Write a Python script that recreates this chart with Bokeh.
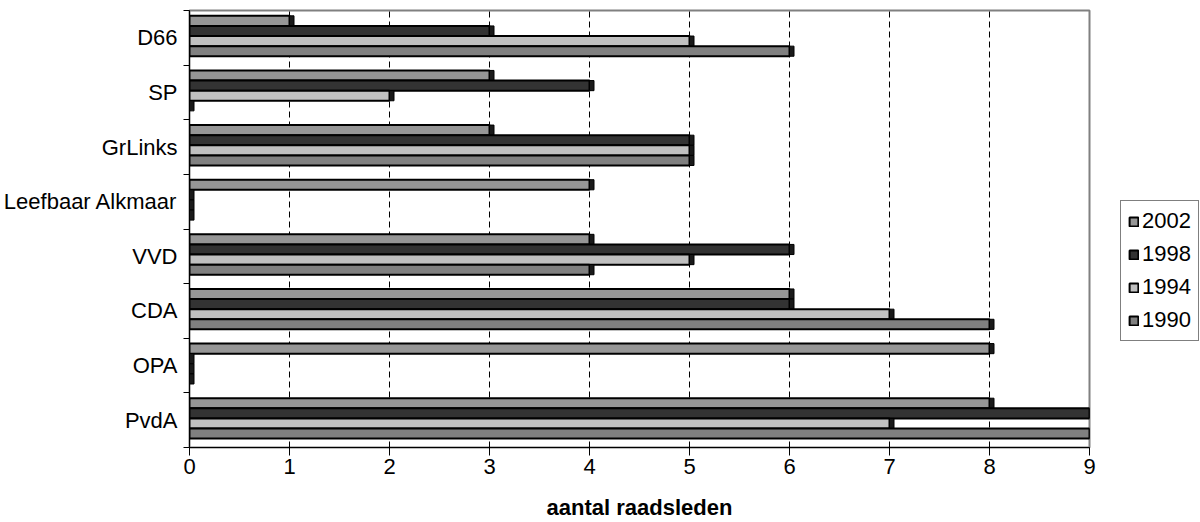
from bokeh.plotting import figure
from bokeh.models import ColumnDataSource, FixedTicker, Legend, LegendItem, Range1d
from bokeh.embed import file_html
from bokeh.resources import INLINE

parties = ["PvdA", "OPA", "CDA", "VVD", "Leefbaar Alkmaar", "GrLinks", "SP", "D66"]
years = ["2002", "1998", "1994", "1990"]
v2002 = [8, 8, 6, 4, 4, 3, 3, 1]
v1998 = [9, 0, 6, 6, 0, 5, 4, 3]
v1994 = [7, 0, 7, 5, 0, 5, 2, 5]
v1990 = [9, 0, 8, 4, 0, 5, 0, 6]
colors = ["#969696", "#333333", "#c0c0c0", "#808080"]
x_ticks = list(range(0, 10))

FONT = "Liberation Sans"

p = figure(frame_width=900, frame_height=437, output_backend="svg", toolbar_location=None,
           x_range=Range1d(0, 9), y_range=Range1d(0, len(parties)),
           min_border_left=182, min_border_right=0, min_border_top=10, min_border_bottom=0)

bar_h = 0.185
cap = 0.045
items = []
for k, (yr, vals, col) in enumerate(zip(years, [v2002, v1998, v1994, v1990], colors)):
    ys = [i + 1 - 0.19 - k * bar_h for i in range(len(parties))]
    src = ColumnDataSource(dict(y=ys, right=vals, capr=[v + cap for v in vals]))
    r = p.hbar(y="y", left=0, right="right", height=bar_h, source=src,
               fill_color=col, line_color="black", line_width=2)
    # dark end cap imitating the 3-D side face
    p.hbar(y="y", left="right", right="capr", height=bar_h, source=src,
           fill_color="#1a1a1a", line_color="black", line_width=1)
    items.append(LegendItem(label=yr, renderers=[r]))

p.xaxis.ticker = FixedTicker(ticks=x_ticks)
p.yaxis.ticker = FixedTicker(ticks=[i + 0.5 for i in range(len(parties))],
                             minor_ticks=list(range(len(parties) + 1)))
p.yaxis.major_label_overrides = {i + 0.5: name for i, name in enumerate(parties)}
p.yaxis.major_tick_line_color = None
p.yaxis.minor_tick_line_color = "black"
p.yaxis.minor_tick_out = 6
p.yaxis.minor_tick_in = 0
p.xaxis.minor_tick_line_color = None
p.xaxis.major_tick_out = 8
p.xaxis.major_tick_in = 0

for ax in (p.xaxis[0], p.yaxis[0]):
    ax.major_label_text_font = FONT
    ax.major_label_text_font_size = "22px"
    ax.major_label_text_color = "black"
    ax.axis_line_color = "black"
    ax.axis_line_width = 1
p.yaxis.major_label_standoff = 6
p.xaxis.major_label_standoff = 3

p.xaxis.axis_label = "aantal raadsleden"
p.xaxis.axis_label_text_font = FONT
p.xaxis.axis_label_text_font_size = "22px"
p.xaxis.axis_label_text_font_style = "bold"
p.xaxis.axis_label_text_color = "black"
p.xaxis.axis_label_standoff = 18

p.xgrid.grid_line_color = "black"
p.xgrid.grid_line_dash = "6 4"
p.xgrid.grid_line_width = 1
p.ygrid.grid_line_color = None
p.outline_line_color = "#808080"
p.outline_line_width = 2

legend = Legend(items=items, location=(31, 106), label_text_font=FONT,
                label_text_font_size="22px", label_text_color="black",
                glyph_width=11, glyph_height=11, label_height=22,
                spacing=7, padding=7, margin=0, border_line_color="black",
                border_line_width=1, label_standoff=3)
p.add_layout(legend, "right")

open("out.html", "w").write(file_html(p, INLINE))
